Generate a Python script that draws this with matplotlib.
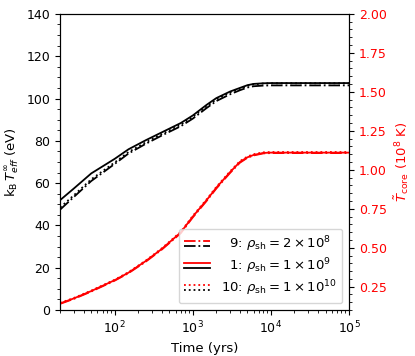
import numpy as np
import matplotlib
matplotlib.use('Agg')
import matplotlib.pyplot as plt
from matplotlib.lines import Line2D
from matplotlib.legend_handler import HandlerBase
from matplotlib.ticker import AutoMinorLocator

# time (yrs)
t_yrs = [20, 30, 50, 100, 150, 250, 400, 700, 1000, 1500, 2000, 3000, 4000, 5000, 6000, 8000, 1e4, 3e4, 1e5]

# k_B T_eff^inf (eV), left axis
teff_1 = [52.0, 57.5, 64.6, 71.5, 76.0, 80.3, 84.0, 88.4, 92.0, 97.0, 100.2, 103.3, 105.0, 106.3, 106.9, 107.2, 107.3, 107.3, 107.3]
teff_9 = [47.5, 53.5, 61.0, 69.1, 74.0, 78.6, 82.5, 86.9, 90.5, 95.5, 98.8, 102.0, 103.9, 105.2, 105.8, 106.1, 106.2, 106.2, 106.2]
teff_10 = [48.5, 54.3, 61.8, 69.8, 74.7, 79.3, 83.2, 87.6, 91.3, 96.3, 99.6, 102.8, 104.6, 106.0, 106.7, 107.1, 107.2, 107.2, 107.2]

# T_core (1e8 K), right axis
tcore_1 = [0.143, 0.175, 0.222, 0.292, 0.340, 0.415, 0.492, 0.598, 0.700, 0.805, 0.885, 0.985, 1.050, 1.080, 1.095, 1.108, 1.110, 1.110, 1.110]
tcore_9 = [0.140, 0.172, 0.219, 0.289, 0.337, 0.411, 0.488, 0.593, 0.695, 0.800, 0.880, 0.980, 1.045, 1.077, 1.092, 1.105, 1.107, 1.107, 1.107]
tcore_10 = [0.146, 0.178, 0.225, 0.295, 0.343, 0.418, 0.496, 0.602, 0.705, 0.810, 0.890, 0.990, 1.055, 1.085, 1.100, 1.112, 1.114, 1.114, 1.114]

labels = ['  9: $\\rho_{\\rm sh}=2\\times10^{8}$',
          '  1: $\\rho_{\\rm sh}=1\\times10^{9}$',
          '10: $\\rho_{\\rm sh}=1\\times10^{10}$']

plt.rcParams['font.size'] = 9.5
plt.rcParams['xtick.labelsize'] = 9
plt.rcParams['ytick.labelsize'] = 9


#凡例：赤線を上、黒線を下に並べる
class HandlerPair(HandlerBase):
    def create_artists(self, legend, orig_handle, xdescent, ydescent, width, height, fontsize, trans):
        red, black = orig_handle
        yc = (height - ydescent) / 2.0
        out = []
        for h, dy in ((black, -1.8), (red, 1.8)):
            l = Line2D([-xdescent, -xdescent + width], [yc + dy, yc + dy],
                       color=h.get_color(), linestyle=h.get_linestyle(), linewidth=h.get_linewidth())
            l.set_transform(trans)
            out.append(l)
        return out


fig = plt.figure(figsize=(4.15, 3.56), dpi=100)
ax = fig.add_axes([0.145, 0.129, 0.696, 0.832])
ax2 = ax.twinx()

lw = 1.3
b9, = ax.plot(t_yrs, teff_9, '-.', color='k', lw=lw)
b1, = ax.plot(t_yrs, teff_1, '-', color='k', lw=lw)
b10, = ax.plot(t_yrs, teff_10, ':', color='k', lw=lw)
r9, = ax2.plot(t_yrs, tcore_9, '-.', color='red', lw=lw)
r1, = ax2.plot(t_yrs, tcore_1, '-', color='red', lw=lw)
r10, = ax2.plot(t_yrs, tcore_10, ':', color='red', lw=lw)

ax.set_xscale('log')
ax.set_xlim(20, 1e5)
ax.set_ylim(0, 140)
ax2.set_ylim(0.1, 2.0)
ax.yaxis.set_minor_locator(AutoMinorLocator())
ax2.set_yticks(np.arange(0.25, 2.01, 0.25))
ax2.yaxis.set_minor_locator(AutoMinorLocator())
ax2.tick_params(axis='y', which='both', labelcolor='red')

ax.set_xlabel('Time (yrs)')
ax.set_ylabel('$\\mathrm{k_B}\\,T_{eff}^{\\infty}$ (eV)')
ax2.set_ylabel('$\\tilde{T}_{\\rm core}$ ($10^8$ K)', color='red')

ax2.legend([(r9, b9), (r1, b1), (r10, b10)], labels, loc='lower right',
           labelspacing=0.2, handler_map={tuple: HandlerPair()})

fig.savefig('out.png', dpi=100)
